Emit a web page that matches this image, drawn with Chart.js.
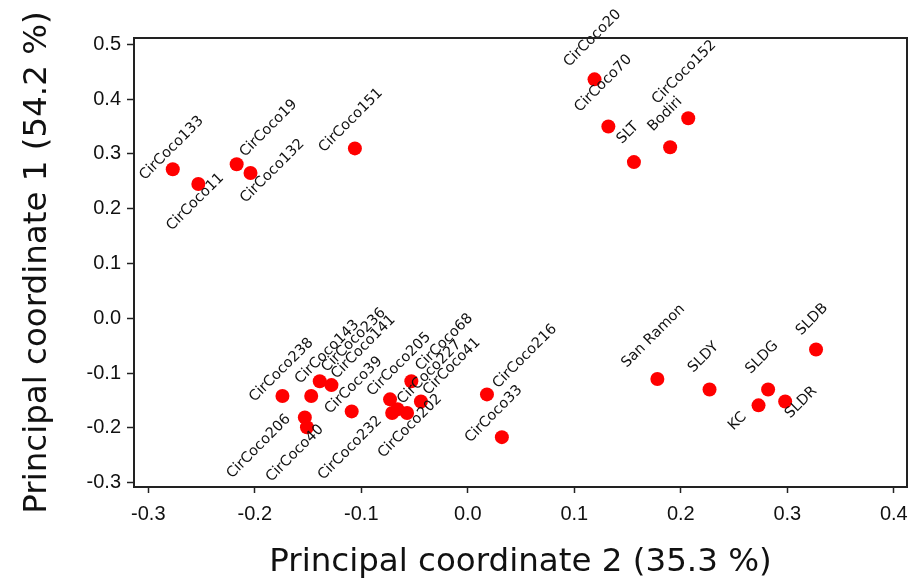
<!DOCTYPE html>
<html>
<head>
<meta charset="utf-8">
<script src="https://cdn.jsdelivr.net/npm/chart.js@4.4.1/dist/chart.umd.min.js"></script>
<style>
    html, body { margin: 0; padding: 0; background: #fff; }
    #wrap { width: 918px; height: 582px; }
</style>
</head>
<body>
<div id="wrap"><canvas id="pcoa"></canvas></div>
<script>
// data
const names = [
    'CirCoco133', 'CirCoco11', 'CirCoco19', 'CirCoco132', 'CirCoco151',
    'CirCoco20', 'CirCoco70', 'SLT', 'Bodiri', 'CirCoco152',
    'San Ramon', 'SLDY', 'SLDG', 'SLDB', 'KC', 'SLDR',
    'CirCoco216', 'CirCoco33',
    'CirCoco238', 'CirCoco143', 'CirCoco236', 'CirCoco141', 'CirCoco206', 'CirCoco40',
    'CirCoco39', 'CirCoco232', 'CirCoco205', 'CirCoco68', 'CirCoco227', 'CirCoco41', 'CirCoco202'
];
const pc2 = [
    -0.277, -0.253, -0.217, -0.204, -0.106,
    0.119, 0.132, 0.156, 0.190, 0.207,
    0.178, 0.227, 0.282, 0.327, 0.273, 0.298,
    0.018, 0.032,
    -0.174, -0.147, -0.139, -0.128, -0.153, -0.151,
    -0.109, -0.071, -0.073, -0.053, -0.066, -0.044, -0.057
];
const pc1 = [
    0.272, 0.245, 0.281, 0.265, 0.310,
    0.436, 0.350, 0.285, 0.312, 0.365,
    -0.111, -0.130, -0.130, -0.057, -0.159, -0.152,
    -0.139, -0.217,
    -0.142, -0.142, -0.115, -0.122, -0.181, -0.199,
    -0.170, -0.173, -0.148, -0.115, -0.166, -0.152, -0.173
];
const xTicks = [-0.3, -0.2, -0.1, 0.0, 0.1, 0.2, 0.3, 0.4];
const yTicks = [-0.3, -0.2, -0.1, 0.0, 0.1, 0.2, 0.3, 0.4, 0.5];

// where each name sits relative to its dot (px, label centre)
const labelOffset = {
    'CirCoco133': [-1, -21], 'CirCoco11': [-3, 18], 'CirCoco19': [32, -36],
    'CirCoco132': [22, -2], 'CirCoco151': [-4, -28],
    'CirCoco20': [-2, -41], 'CirCoco70': [-5, -43], 'SLT': [-6, -29],
    'Bodiri': [-5, -33], 'CirCoco152': [-4, -46],
    'San Ramon': [-4, -43], 'SLDY': [-6, -32], 'SLDG': [-6, -32],
    'SLDB': [-4, -30], 'KC': [-21, 16], 'SLDR': [16, 1],
    'CirCoco216': [38, -38], 'CirCoco33': [-8, -23],
    'CirCoco238': [-1, -26], 'CirCoco143': [16, -44], 'CirCoco236': [34, -41],
    'CirCoco141': [32, -38], 'CirCoco206': [-46, 29], 'CirCoco40': [-12, 26],
    'CirCoco39': [2, -26], 'CirCoco232': [-42, 35], 'CirCoco205': [9, -35],
    'CirCoco68': [33, -39], 'CirCoco227': [32, -37], 'CirCoco41': [31, -35],
    'CirCoco202': [3, 13]
};

const points = pc2.map((x, i) => ({ x: x, y: pc1[i] }));

// box round the plot area
const frame = {
    id: 'frame',
    afterDraw(chart) {
        const a = chart.chartArea;
        const c = chart.ctx;
        c.save();
        c.strokeStyle = '#222';
        c.lineWidth = 2;
        c.strokeRect(a.left, a.top, a.right - a.left, a.bottom - a.top);
        c.restore();
    }
};

// rotated names next to the dots
const names45 = {
    id: 'names45',
    afterDatasetsDraw(chart) {
        const c = chart.ctx;
        const meta = chart.getDatasetMeta(0);
        c.save();
        c.font = '14.5px "DejaVu Sans"';
        c.fillStyle = '#111';
        c.textAlign = 'center';
        c.textBaseline = 'middle';
        meta.data.forEach((pt, i) => {
            const off = labelOffset[names[i]] || [0, -25];
            c.save();
            c.translate(pt.x + off[0], pt.y + off[1]);
            c.rotate(-Math.PI / 4);
            c.fillText(names[i], 0, 0);
            c.restore();
        });
        c.restore();
    }
};

const tickFont = { family: '"Liberation Sans Narrow", "Liberation Sans", sans-serif', size: 20 };
const titleFont = { family: '"DejaVu Sans"', size: 32.5 };

new Chart(document.getElementById('pcoa'), {
    type: 'scatter',
    data: {
        datasets: [{
            data: points,
            pointRadius: 7,
            pointHoverRadius: 7,
            pointBackgroundColor: '#ff0000',
            pointBorderWidth: 0
        }]
    },
    options: {
        responsive: true,
        maintainAspectRatio: false,
        animation: false,
        layout: { padding: { top: 38, right: 11, left: 0, bottom: 0 } },
        plugins: { legend: { display: false }, tooltip: { enabled: false } },
        scales: {
            x: {
                type: 'linear',
                min: -0.3134,
                max: 0.4124,
                afterBuildTicks: s => { s.ticks = xTicks.map(v => ({ value: v })); },
                afterFit: s => { s.height = 95; },
                border: { display: false },
                grid: { drawOnChartArea: false, drawTicks: true, tickLength: 6, tickColor: '#222', tickWidth: 1.5 },
                ticks: { color: '#111', font: tickFont, padding: 9, maxRotation: 0, callback: v => v.toFixed(1) },
                title: { display: true, text: 'Principal coordinate 2 (35.3 %)', color: '#111', font: titleFont, padding: { top: 0, bottom: 0 } }
            },
            y: {
                type: 'linear',
                min: -0.308,
                max: 0.5115,
                afterBuildTicks: s => { s.ticks = yTicks.map(v => ({ value: v })); },
                afterFit: s => { s.width = 134; },
                border: { display: false },
                grid: { drawOnChartArea: false, drawTicks: true, tickLength: 7, tickColor: '#222', tickWidth: 1.5 },
                ticks: { color: '#111', font: tickFont, padding: 6, callback: v => v.toFixed(1) },
                title: { display: true, text: 'Principal coordinate 1 (54.2 %)', color: '#111', font: titleFont, padding: { top: 18, bottom: 0 } }
            }
        }
    },
    plugins: [frame, names45]
});
</script>
</body>
</html>
